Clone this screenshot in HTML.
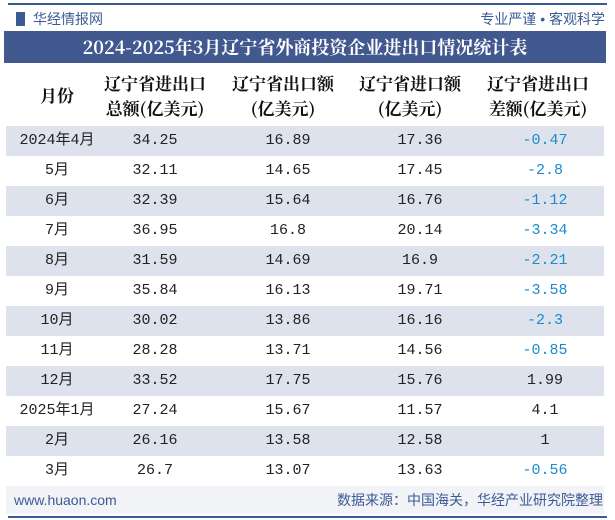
<!DOCTYPE html>
<html><head><meta charset="utf-8"><style>
body{margin:0;width:615px;height:520px;background:#fff;position:relative;overflow:hidden;font-family:"Liberation Sans","Noto Sans CJK SC",sans-serif}
.abs{position:absolute}
.row{position:absolute;left:6px;width:598px;height:30px}
.c{position:absolute;top:0;height:30px;line-height:30px;text-align:center;font-family:"Liberation Mono","Noto Sans CJK SC",monospace;font-size:15px;color:#222}
.h{position:absolute;text-align:center;font-weight:bold;font-size:17px;line-height:25px;color:#111;font-family:"Noto Serif CJK SC","Noto Sans CJK SC",serif}
</style></head><body>
<div class="abs" style="left:8px;top:3px;width:599px;height:2px;background:#3b5a96"></div>
<div class="abs" style="left:16px;top:9px;font-size:14px;color:#3b5a96;line-height:20px"><span style="display:inline-block;width:9px;height:14px;background:#3b5a96;vertical-align:-2px;margin-right:8px"></span>华经情报网</div>
<div class="abs" style="right:10px;top:9px;font-size:14px;color:#3b5a96;line-height:20px">专业严谨 • 客观科学</div>
<div class="abs" style="left:4px;top:31px;width:602px;height:32px;background:#42598f;color:#fff;font-weight:bold;font-size:18px;line-height:32px;text-align:center;font-family:'Noto Serif CJK SC','Noto Sans CJK SC',serif">2024-2025年3月辽宁省外商投资企业进出口情况统计表</div>
<div class="h" style="left:17px;width:80px;top:82px">月份</div>
<div class="h" style="left:95px;width:120px;top:70px">辽宁省进出口<br>总额(亿美元)</div>
<div class="h" style="left:223px;width:120px;top:70px">辽宁省出口额<br>(亿美元)</div>
<div class="h" style="left:350px;width:120px;top:70px">辽宁省进口额<br>(亿美元)</div>
<div class="h" style="left:478px;width:120px;top:70px">辽宁省进出口<br>差额(亿美元)</div>
<div id="rows"></div>
<div class="abs" style="left:6px;top:486px;width:598px;height:28px;background:#f2f3f6"></div>
<div class="abs" style="left:14px;top:490px;font-size:14px;color:#3b5a96;line-height:20px">www.huaon.com</div>
<div class="abs" style="right:12px;top:490px;font-size:14px;color:#3b5a96;line-height:20px">数据来源：中国海关，华经产业研究院整理</div>
<div class="abs" style="left:8px;top:516px;width:599px;height:2px;background:#3b5a96"></div>
<script>
const months=["2024年4月","5月","6月","7月","8月","9月","10月","11月","12月","2025年1月","2月","3月"];
const totals=["34.25","32.11","32.39","36.95","31.59","35.84","30.02","28.28","33.52","27.24","26.16","26.7"];
const exportsV=["16.89","14.65","15.64","16.8","14.69","16.13","13.86","13.71","17.75","15.67","13.58","13.07"];
const importsV=["17.36","17.45","16.76","20.14","16.9","19.71","16.16","14.56","15.76","11.57","12.58","13.63"];
const balance=["-0.47","-2.8","-1.12","-3.34","-2.21","-3.58","-2.3","-0.85","1.99","4.1","1","-0.56"];
const wrap=document.getElementById('rows');
const cols=[[11,80],[89,120],[222,120],[354,120],[479,120]];
months.forEach((m,i)=>{
  const r=document.createElement('div');r.className='row';
  
  
  r.style.top=(126+i*30)+'px';
  if(i%2===0)r.style.background='#dde2ec';
  const vals=[m,totals[i],exportsV[i],importsV[i],balance[i]];
  const names=['month','total','export','import','balance'];
  vals.forEach((v,j)=>{
    const c=document.createElement('div');c.className='c';
    
    
    c.style.left=cols[j][0]+'px';c.style.width=cols[j][1]+'px';
    if(j===4&&parseFloat(v)<0)c.style.color='#1a8ccc';
    c.textContent=v;r.appendChild(c);
  });
  wrap.appendChild(r);
});
</script>
</body></html>
